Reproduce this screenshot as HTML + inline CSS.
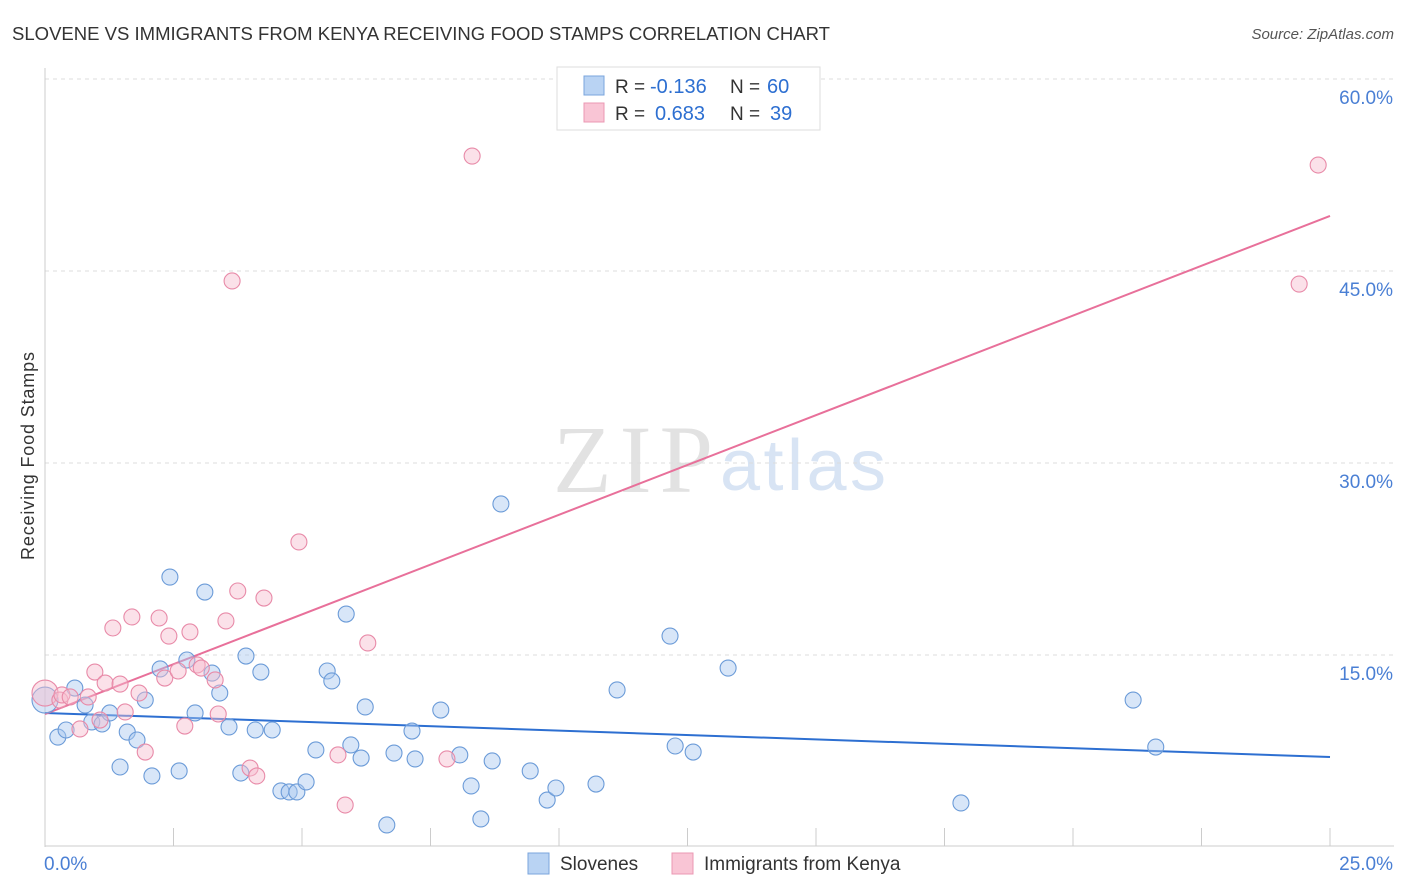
<!DOCTYPE html>
<html><head><meta charset="utf-8"><style>
body{margin:0;background:#fff;font-family:"Liberation Sans",sans-serif}
svg{display:block}
</style></head><body>
<svg width="1406" height="892" xmlns="http://www.w3.org/2000/svg">
<text x="12" y="40" font-size="18" textLength="818" lengthAdjust="spacingAndGlyphs" fill="#333">SLOVENE VS IMMIGRANTS FROM KENYA RECEIVING FOOD STAMPS CORRELATION CHART</text>
<text x="1394" y="39" font-size="15" fill="#555" font-style="italic" text-anchor="end">Source: ZipAtlas.com</text>
<g>
<text x="553" y="492" font-size="96" textLength="160" font-family="Liberation Serif,serif" fill="#e2e2e2">ZIP</text>
<text x="720" y="490" font-size="72" textLength="166" fill="#d8e4f4">atlas</text>
</g>
<g id="grid"></g>
<g id="axes"></g>
<g id="lines"></g>
<g id="pts"></g>
<text transform="translate(34,456) rotate(-90)" font-size="18" textLength="208" text-anchor="middle" fill="#333">Receiving Food Stamps</text>
<g>
<rect x="557" y="67" width="263" height="63" fill="#fff" stroke="#ddd"/>
<rect x="584" y="76" width="20" height="19" fill="#b9d3f3" stroke="#7aa5dd"/>
<rect x="584" y="103" width="20" height="19" fill="#f9c5d5" stroke="#eb98b3"/>
<text x="615" y="93" font-size="19" fill="#333">R =</text>
<text x="650" y="93" font-size="20" fill="#2d6fd1">-0.136</text>
<text x="730" y="93" font-size="19" fill="#333">N =</text>
<text x="767" y="93" font-size="20" fill="#2d6fd1">60</text>
<text x="615" y="120" font-size="19" fill="#333">R =</text>
<text x="655" y="120" font-size="20" fill="#2d6fd1">0.683</text>
<text x="730" y="120" font-size="19" fill="#333">N =</text>
<text x="770" y="120" font-size="20" fill="#2d6fd1">39</text>
</g>
<g>
<rect x="528" y="853" width="21" height="21" fill="#b9d3f3" stroke="#7aa5dd"/>
<text x="560" y="870" font-size="19" fill="#333">Slovenes</text>
<rect x="672" y="853" width="21" height="21" fill="#f9c5d5" stroke="#eb98b3"/>
<text x="704" y="870" font-size="19" fill="#333">Immigrants from Kenya</text>
</g>
</svg>
<script>
const yTicks=[15,30,45,60];
const yTickLabels=["15.0%","30.0%","45.0%","60.0%"];
const blueX=[0,0.25,0.41,0.58,0.78,0.91,1.11,1.26,1.46,1.60,1.79,1.95,2.08,2.24,2.43,2.61,2.76,2.92,3.11,3.25,3.40,3.58,3.81,3.91,4.09,4.20,4.42,4.59,4.75,4.90,5.08,5.27,5.49,5.58,5.86,5.95,6.15,6.23,6.65,6.79,7.14,7.20,7.70,8.07,8.29,8.48,8.70,8.87,9.44,9.77,9.94,10.72,11.13,12.16,12.26,12.61,13.29,17.82,21.17,21.61];
const blueY=[11.48,8.59,9.14,12.42,11.09,9.77,9.61,10.47,6.25,8.98,8.36,11.48,5.55,13.91,21.09,5.94,14.61,10.47,19.92,13.59,12.03,9.38,5.78,14.92,9.14,13.67,9.14,4.38,4.30,4.30,5.08,7.58,13.75,12.97,18.20,7.97,6.95,10.94,1.72,7.34,9.06,6.88,10.70,7.19,4.77,2.19,6.72,26.80,5.94,3.67,4.61,4.92,12.27,16.48,7.89,7.42,13.98,3.44,11.48,7.81];
const pinkX=[0,0.29,0.33,0.49,0.68,0.84,0.97,1.07,1.17,1.32,1.46,1.56,1.69,1.83,1.95,2.22,2.33,2.41,2.59,2.72,2.82,2.96,3.04,3.31,3.37,3.52,3.64,3.75,3.99,4.12,4.26,4.94,5.70,5.84,6.28,7.82,8.31,24.40,24.77];
const pinkY=[12.03,11.48,11.88,11.72,9.22,11.72,13.67,9.92,12.81,17.11,12.73,10.55,17.97,12.03,7.42,17.89,13.20,16.48,13.75,9.45,16.80,14.22,13.98,13.05,10.39,17.66,44.22,20.0,6.17,5.55,19.45,23.83,7.19,3.28,15.94,6.88,53.98,43.98,53.28];
const blueTrend=[10.47,7.03];
const pinkTrend=[10.39,49.3];
const ns="http://www.w3.org/2000/svg";
function X(v){return 45+v*51.4;}
function Y(v){return 847-v*12.8;}
function mk(t,a,p){const e=document.createElementNS(ns,t);for(const k in a)e.setAttribute(k,a[k]);p.appendChild(e);return e;}
const grid=document.getElementById('grid'),axes=document.getElementById('axes'),lines=document.getElementById('lines'),pts=document.getElementById('pts');
yTicks.forEach((t,i)=>{
 const l=mk('line',{x1:45,x2:1394,y1:Y(t),y2:Y(t),stroke:'#ddd','stroke-dasharray':'4,4'},grid);
 
 
 const tx=mk('text',{x:1393,y:Y(t)+25,'font-size':19,fill:'#4a7fd4','text-anchor':'end'},axes);
 tx.textContent=yTickLabels[i];
 
 
});
mk('line',{x1:45,x2:45,y1:68,y2:847,stroke:'#ccc'},axes);
mk('line',{x1:45,x2:1394,y1:846,y2:846,stroke:'#ccc'},axes);
for(let i=0;i<=10;i++){const t=mk('line',{x1:X(i*2.5),x2:X(i*2.5),y1:828,y2:846,stroke:'#ccc'},axes);
 
 }
const x0=mk('text',{x:44,y:870,'font-size':19,fill:'#4a7fd4'},axes);x0.textContent='0.0%';


const x1=mk('text',{x:1393,y:870,'font-size':19,fill:'#4a7fd4','text-anchor':'end'},axes);x1.textContent='25.0%';


function dots(xs,ys,fill,stroke,name){xs.forEach((x,i)=>{
 const c=mk('circle',{cx:X(x),cy:Y(ys[i]),r:x===0?13:8,fill:fill,'fill-opacity':0.45,stroke:stroke,'stroke-width':1.1},pts);
 
 });}
dots(blueX,blueY,'#a9c8ef','#6b9bd8','slovene-point');
dots(pinkX,pinkY,'#f7bccf','#e88aa8','kenya-point');
const bl=mk('line',{x1:X(0),y1:Y(blueTrend[0]),x2:X(25),y2:Y(blueTrend[1]),stroke:'#2d6fd1','stroke-width':2},lines);


const pl=mk('line',{x1:X(0),y1:Y(pinkTrend[0]),x2:X(25),y2:Y(pinkTrend[1]),stroke:'#e8709a','stroke-width':2},lines);


</script>
</body></html>
